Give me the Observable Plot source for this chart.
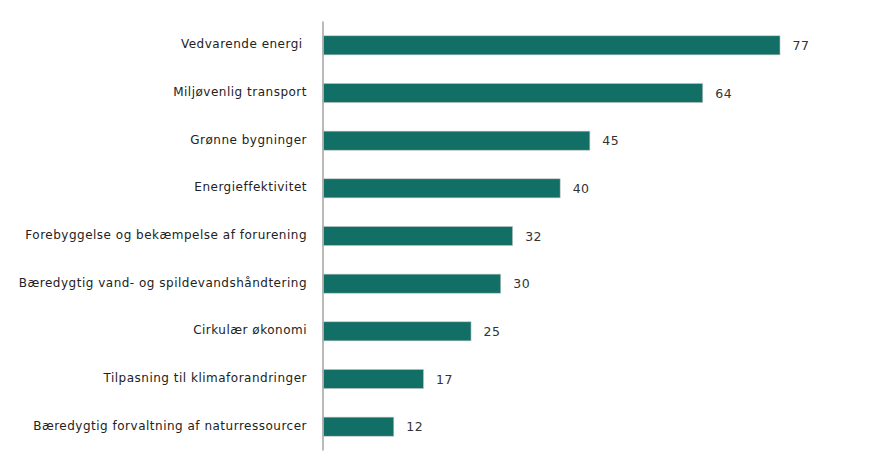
<!DOCTYPE html>
<html>
<head>
<meta charset="utf-8">
<script src="https://cdn.jsdelivr.net/npm/d3@7"></script>
<script src="https://cdn.jsdelivr.net/npm/@observablehq/plot@0.6"></script>
<style>
  html, body { margin: 0; padding: 0; background: #fff; }
  #chart svg { display: block; }
</style>
</head>
<body>
<div id="chart"></div>
<script>
const categories = [
  "Vedvarende energi ",
  "Miljøvenlig transport",
  "Grønne bygninger",
  "Energieffektivitet",
  "Forebyggelse og bekæmpelse af forurening",
  "Bæredygtig vand- og spildevandshåndtering",
  "Cirkulær økonomi",
  "Tilpasning til klimaforandringer",
  "Bæredygtig forvaltning af naturressourcer"
];
const values = [77, 64, 45, 40, 32, 30, 25, 17, 12];

const data = categories.map((c, i) => ({category: c, value: values[i]}));

const chart = Plot.plot({
  width: 878,
  height: 472,
  marginLeft: 322.5,
  marginRight: 98,
  marginTop: 21.5,
  marginBottom: 21.5,
  style: {fontFamily: "'DejaVu Sans', sans-serif", fontSize: "12px", letterSpacing: "0.5px", color: "#222", background: "#fff"},
  x: {domain: [0, 77], axis: null},
  y: {domain: categories, paddingInner: 0.6, paddingOuter: 0.3, round: false, axis: null},
  marks: [
    Plot.axisY({label: null, tickSize: 0, tickPadding: 16, dy: -1.5}),
    Plot.barX(data, {x: "value", y: "category", fill: "#126f66", stroke: "#c4c4c4", strokeWidth: 0.6}),
    Plot.text(data, {x: "value", y: "category", text: d => String(d.value), textAnchor: "start", dx: 12, fill: "#333", fontSize: 12.5}),
    Plot.ruleX([0], {stroke: "#b3b3b3", strokeWidth: 1.8})
  ]
});
document.getElementById("chart").appendChild(chart);
</script>
</body>
</html>
